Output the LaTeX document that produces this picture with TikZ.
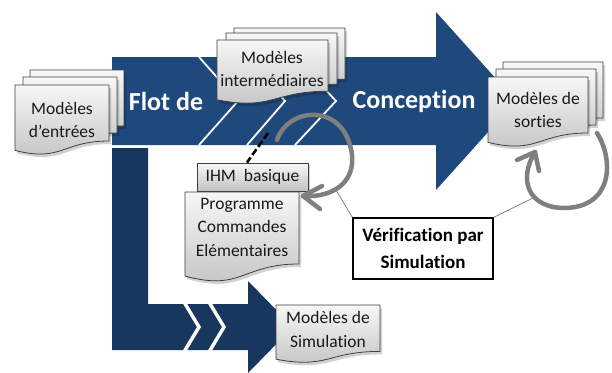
\documentclass[tikz,border=0pt]{standalone}
\usepackage{fontspec}
\setmainfont{Carlito}[Ligatures=NoCommon]
\usetikzlibrary{calc}
\definecolor{mainblue}{HTML}{1F497D}
\definecolor{darkblue}{HTML}{17375E}
\definecolor{loopgray}{HTML}{7F7F7F}
\definecolor{docborder}{HTML}{3F3F3F}
\tikzset{
  docfill/.style={top color=gray!6, bottom color=gray!48, draw=docborder, line width=0.8pt},
  docshadow/.style={fill=black, opacity=0.18},
  doctext/.style={font=\fontsize{17.5}{23.5}\selectfont, text=black!90, align=center, inner sep=0pt},
  bigtext/.style={font=\fontsize{26}{30}\selectfont\bfseries, text=white, inner sep=0pt},
  loopline/.style={draw=loopgray, line width=4.5pt, line cap=round, line join=round},
  thinline/.style={draw=gray, line width=0.8pt},
  chevline/.style={draw=white, line width=1.8pt},
  lchev/.style={draw=white, line width=3.5pt},
  dashconn/.style={draw=black, line width=2.6pt, dash pattern=on 7pt off 3pt},
  ihmbox/.style={docfill, minimum width=111pt, minimum height=28pt, inner sep=0pt,
    font=\fontsize{17.5}{23}\selectfont, text=black!90},
  verifbox/.style={draw=black, line width=1.2pt, fill=white, minimum width=140pt,
    minimum height=61pt, inner sep=0pt, align=center,
    font=\fontsize{19}{27}\selectfont\bfseries, text=black},
}
\newcommand\docpath[4]{({#1},{#2}) -- ({#1+#3},{#2}) -- ({#1+#3},{#2+0.8*#4})
  .. controls ({#1+#3/2},{#2+0.8*#4}) and ({#1+#3/2},{#2+1.107*#4}) .. ({#1},{#2+0.934*#4}) -- cycle}
\newcommand\docshape[4]{%
  \fill[docshadow] \docpath{#1+2}{#2+3}{#3}{#4};
  \path[docfill] \docpath{#1}{#2}{#3}{#4};}
\begin{document}
\begin{tikzpicture}[x=1pt,y=-1pt]
\useasboundingbox (0,0) rectangle (612,372);
% main arrow
\fill[mainblue] (112,57) -- (436,57) -- (436,12) -- (516,101) -- (436,190) -- (436,145) -- (112,145) -- cycle;
\draw[chevline] (199,57) -- (238,101) -- (199,145);
\draw[chevline] (247,57) -- (285,101) -- (247,145);
\draw[chevline] (295,57) -- (336,101) -- (295,145);
% L arrow
\fill[darkblue] (112,148) -- (148,148) -- (148,304) -- (248,304) -- (248,281) -- (293,327) -- (248,373) -- (248,350) -- (112,350) -- cycle;
\draw[lchev] (184,302) -- (199,327) -- (184,352);
\draw[lchev] (209,302) -- (224,327) -- (209,352);
% big texts
\node[bigtext] (flot) at (166,101) {Flot de};
\node[bigtext] (conc) at (414,101) {Conception};
% documents
\docshape{30}{70}{94}{70}
\docshape{23}{77}{94}{70}
\docshape{15}{85}{94}{70}
\node[doctext] (din) at (62,120) {Modèles\\d’entrées};
\docshape{234}{28}{111}{64}
\docshape{226}{33}{111}{64}
\docshape{217}{40}{111}{64}
\node[doctext] (dint) at (272,69) {Modèles\\intermédiaires};
\docshape{503}{62}{100}{70}
\docshape{496}{69}{100}{70}
\docshape{488}{77}{100}{70}
\node[doctext] (dsor) at (538,110) {Modèles de\\sorties};
\fill[docshadow] (199,165) rectangle (310,194);
\node[ihmbox] (ihm) at (252.5,177) {IHM~~basique};
\docshape{185}{192}{114}{90}
\node[doctext] (prog) at (242,227) {Programme\\Commandes\\Elémentaires};
\docshape{276}{305}{104}{58}
\node[doctext] (dsim) at (328,329.5) {Modèles de\\Simulation};
% dashed link
\coordinate (dashtop) at (268,133);
\draw[dashconn] (dashtop) -- ($(ihm.north west)!0.45!(ihm.north east)$);
% verification box and thin links
\node[verifbox] (verif) at (423,248.5) {Vérification par\\Simulation};
\coordinate (l1c) at (336,190);
\coordinate (l2c) at (533,198);
\draw[thinline] (verif.north west) -- (l1c);
\draw[thinline] (verif.north east) -- (l2c);
% loop 1
\coordinate (l1s) at (277,140);
\coordinate (l1t) at (303,196);
\draw[loopline] (l1s) .. controls (288,108) and (338,103) .. (350,145)
  .. controls (360,180) and (335,198) .. (l1t);
\draw[loopline] (322,186) -- (l1t) -- (320,209);
% loop 2
\coordinate (l2s) at (597,133);
\coordinate (l2t) at (535,152);
\draw[loopline] (l2s) .. controls (614,160) and (613,207) .. (565,208)
  .. controls (528,208) and (518,180) .. (l2t);
\draw[loopline] (517,160) -- (l2t) -- (539,171);
\end{tikzpicture}
\end{document}
